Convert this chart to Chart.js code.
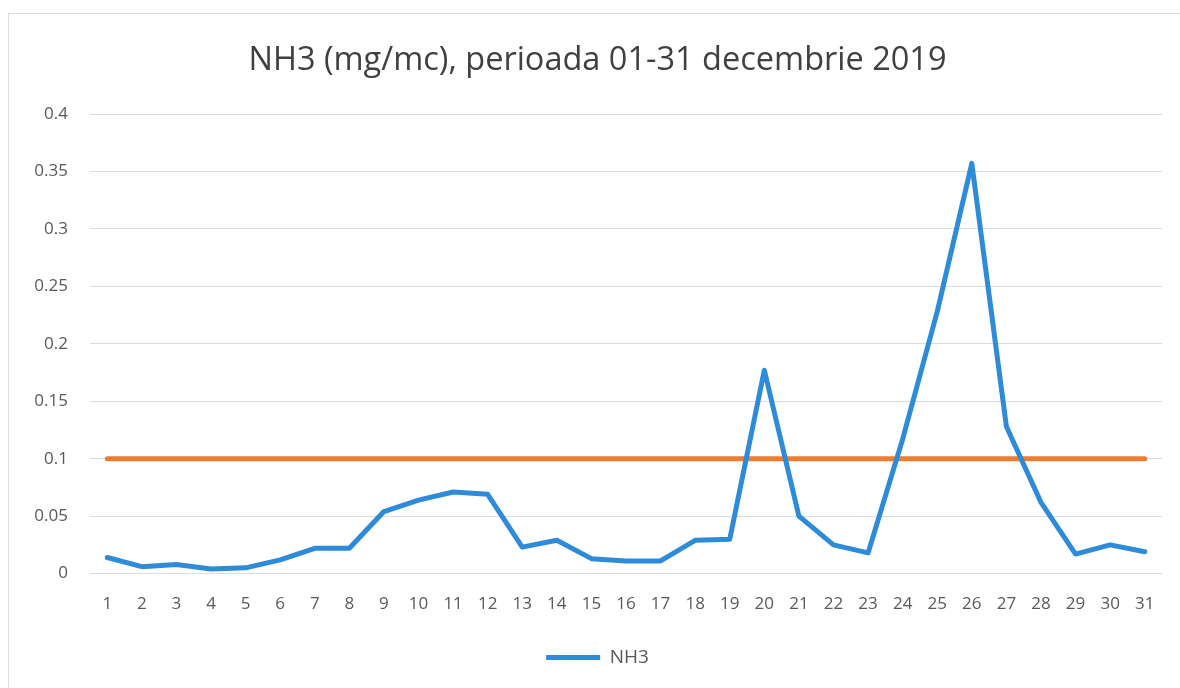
<!DOCTYPE html>
<html>
<head>
<meta charset="utf-8">
<script src="https://cdn.jsdelivr.net/npm/chart.js@4.4.1/dist/chart.umd.min.js"></script>
<style>
    html, body { margin: 0; padding: 0; background: #fff; overflow: hidden; }
    #frame { position: absolute; left: 8px; top: 13px; width: 1200px; height: 700px; border: 1px solid #dcdcdc; }
    #wrap { position: absolute; left: 0; top: 0; width: 1180px; height: 688px; }
</style>
</head>
<body>
<div id="frame"></div>
<div id="wrap"><canvas id="nh3Chart" width="1180" height="688"></canvas></div>
<script>
const days = ['1', '2', '3', '4', '5', '6', '7', '8', '9', '10', '11', '12', '13', '14', '15', '16',
    '17', '18', '19', '20', '21', '22', '23', '24', '25', '26', '27', '28', '29', '30', '31'];

const nh3Values = [0.014, 0.006, 0.008, 0.004, 0.005, 0.012, 0.022, 0.022, 0.054, 0.064, 0.071, 0.069,
    0.023, 0.029, 0.013, 0.011, 0.011, 0.029, 0.030, 0.177, 0.050, 0.025, 0.018, 0.117, 0.228, 0.357,
    0.128, 0.062, 0.017, 0.025, 0.019];

const limitValues = [0.1, 0.1, 0.1, 0.1, 0.1, 0.1, 0.1, 0.1, 0.1, 0.1, 0.1, 0.1, 0.1, 0.1, 0.1, 0.1,
    0.1, 0.1, 0.1, 0.1, 0.1, 0.1, 0.1, 0.1, 0.1, 0.1, 0.1, 0.1, 0.1, 0.1, 0.1];

const textColor = '#595959';
const fontFamily = "'Open Sans', sans-serif";

new Chart(document.getElementById('nh3Chart').getContext('2d'), {
    type: 'line',
    data: {
        labels: days,
        datasets: [{
            label: 'NH3',
            data: nh3Values,
            borderColor: '#2E8BDA',
            backgroundColor: '#2E8BDA',
            borderWidth: 5,
            borderCapStyle: 'round',
            borderJoinStyle: 'round',
            pointRadius: 0,
            tension: 0,
            fill: false
        }, {
            label: 'limita',
            data: limitValues,
            borderColor: '#ED7D31',
            backgroundColor: '#ED7D31',
            borderWidth: 5,
            borderCapStyle: 'round',
            pointRadius: 0,
            tension: 0,
            fill: false
        }]
    },
    options: {
        responsive: false,
        animation: false,
        // left padding keeps the title centred like the original, y axis width makes up the rest
        layout: { padding: { left: 33, right: 18, top: 0, bottom: 11 } },
        plugins: {
            title: {
                display: true,
                text: 'NH3 (mg/mc), perioada 01-31 decembrie 2019',
                color: '#404040',
                font: { family: fontFamily, size: 32.5, weight: 'normal' },
                padding: { top: 41, bottom: 34 }
            },
            legend: {
                position: 'bottom',
                labels: {
                    filter: item => item.datasetIndex === 0,
                    usePointStyle: true,
                    pointStyle: 'line',
                    pointStyleWidth: 54,
                    boxWidth: 54,
                    color: textColor,
                    font: { family: fontFamily, size: 19 },
                    padding: 22
                }
            },
            tooltip: { enabled: false }
        },
        scales: {
            x: {
                offset: true,
                grid: { display: false },
                border: { display: false },
                ticks: { color: textColor, font: { family: fontFamily, size: 17 }, padding: 12, maxRotation: 0, autoSkip: false }
            },
            y: {
                min: 0,
                max: 0.4,
                afterFit: scale => { scale.width = 57; },
                grid: { color: '#dadbe3', lineWidth: 1, drawTicks: false },
                border: { display: false },
                ticks: {
                    stepSize: 0.05,
                    color: textColor,
                    font: { family: fontFamily, size: 17 },
                    padding: 22,
                    callback: v => String(+v.toFixed(2))
                }
            }
        }
    }
});
</script>
</body>
</html>
